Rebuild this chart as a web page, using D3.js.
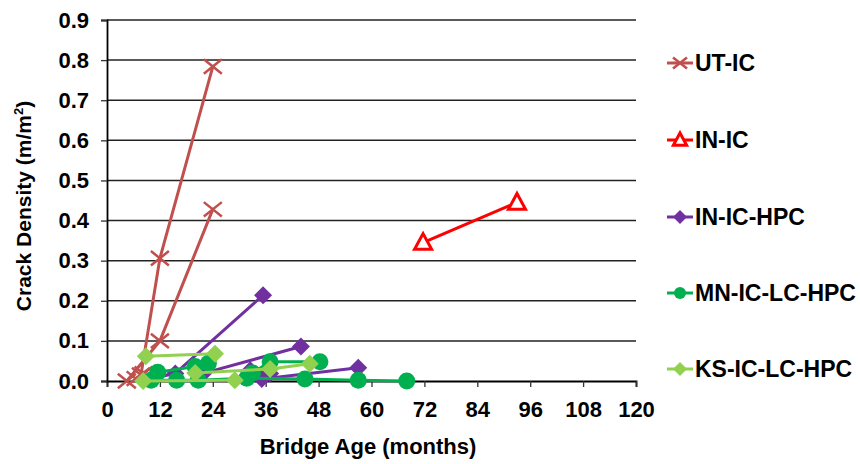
<!DOCTYPE html>
<html><head><meta charset="utf-8">
<script src="https://cdn.jsdelivr.net/npm/d3@7"></script>
<style>body{margin:0;background:#fff}svg{display:block}text{font-family:"Liberation Sans",Arial,sans-serif;font-weight:bold}</style>
</head><body><svg id="c" width="860" height="464"></svg>
<script>
// x tick labels (months) and y ticks
const xTicks = [0,12,24,36,48,60,72,84,96,108,120];
const yTicks = [0,0.1,0.2,0.3,0.4,0.5,0.6,0.7,0.8,0.9];
// each series: list of bridges, each bridge a list of [age, density]
const utIC = [
  [[4.5,0.0],[12,0.10],[24,0.428]],
  [[7.7,0.015],[12,0.306],[24,0.784]],
  [[6.5,0.006],[8.3,0.018]]
];
const inIC = [
  [[71.7,0.345],[93,0.445]]
];
const inICHPC = [
  [[10.5,0.007],[15.5,0.019],[35.4,0.214]],
  [[21.8,0.019],[44,0.086]],
  [[32.5,0.027],[37,0.019]],
  [[35.1,0.005],[57,0.033]]
];
const mnICLCHPC = [
  [[11.5,0.022],[20,0.036],[23,0.044]],
  [[10,0.002],[15.8,0.002],[20.7,0.002],[31.7,0.007],[44.9,0.005],[57,0.002],[68,0.0]],
  [[33,0.02],[37,0.048],[48.3,0.048]]
];
const ksICLCHPC = [
  [[8.8,0.062],[24.5,0.068]],
  [[8.2,0.0],[29,0.002]],
  [[20,0.02],[37,0.03],[46,0.043]]
];
const seriesNames = ["UT-IC","IN-IC","IN-IC-HPC","MN-IC-LC-HPC","KS-IC-LC-HPC"];
const seriesData = [utIC, inIC, inICHPC, mnICLCHPC, ksICLCHPC];
const seriesColors = ["#C0504D","#FF0000","#7030A0","#00B050","#92D050"];
const seriesMarkers = ["x","tri","diamond","circle","diamond"];

const svg = d3.select("#c");
const m = {l:107, t:20, r:636, b:381};
const x = d3.scaleLinear().domain([0,120]).range([m.l, m.r]);
const y = d3.scaleLinear().domain([0,0.9]).range([m.b, m.t]);

// gridlines
svg.append("g").selectAll("line").data(yTicks.filter(d=>d>0)).join("line")
  .attr("x1", m.l).attr("x2", m.r).attr("y1", d=>y(d)).attr("y2", d=>y(d))
  .attr("stroke","#222").attr("stroke-width",1.5);

// axes
const xa = svg.append("g").attr("transform",`translate(0,${m.b})`)
  .call(d3.axisBottom(x).tickValues(xTicks).tickSize(6).tickPadding(14).tickFormat(d3.format("d")));
const ya = svg.append("g").attr("transform",`translate(${m.l},0)`)
  .call(d3.axisLeft(y).tickValues(yTicks).tickSize(6).tickPadding(12).tickFormat(d3.format(".1f")));
[xa,ya].forEach(a=>{
  a.select(".domain").attr("stroke","#000").attr("stroke-width",1.8);
  a.selectAll(".tick line").attr("stroke","#333").attr("stroke-width",1.3);
  a.selectAll("text").attr("font-size",22).attr("fill","#000")
    .style("font-family","'Liberation Sans',Arial,sans-serif").style("font-weight","bold");
});
xa.selectAll(".tick text").attr("dy","0.71em");

svg.append("text").attr("x",368).attr("y",454).attr("text-anchor","middle")
  .attr("font-size",22).text("Bridge Age (months)");
const yl = svg.append("text").attr("transform",`translate(31,${206}) rotate(-90)`)
  .attr("text-anchor","middle").attr("font-size",21);
yl.append("tspan").text("Crack Density (m/m");
yl.append("tspan").attr("font-size",13).attr("dy",-8).text("2");
yl.append("tspan").attr("dy",8).text(")");

function drawMarker(g, type, color, cx, cy, s){
  if(type==="x"){
    const r = s;
    g.append("path").attr("d",`M${cx-r},${cy-r*0.8}L${cx+r},${cy+r*0.8}M${cx-r},${cy+r*0.8}L${cx+r},${cy-r*0.8}`)
      .attr("stroke",color).attr("stroke-width",2.5).attr("fill","none");
  } else if(type==="tri"){
    const r = s;
    g.append("path").attr("d",`M${cx},${cy-r}L${cx+r*0.95},${cy+r*0.75}L${cx-r*0.95},${cy+r*0.75}Z`)
      .attr("stroke",color).attr("stroke-width",3).attr("fill","#fff");
  } else if(type==="diamond"){
    const r = s;
    g.append("path").attr("d",`M${cx},${cy-r}L${cx+r},${cy}L${cx},${cy+r}L${cx-r},${cy}Z`).attr("fill",color);
  } else {
    g.append("circle").attr("cx",cx).attr("cy",cy).attr("r",s).attr("fill",color);
  }
}
const markerSize = {x:9, tri:9, diamond:9, circle:8.5};
const line = d3.line().x(d=>x(d[0])).y(d=>y(d[1]));
const plot = svg.append("g");
seriesData.forEach((bridges,i)=>{
  const g = plot.append("g");
  bridges.forEach(b=>{
    g.append("path").attr("d",line(b)).attr("fill","none").attr("stroke",seriesColors[i]).attr("stroke-width",3);
  });
  bridges.forEach(b=>b.forEach(p=>drawMarker(g, seriesMarkers[i], seriesColors[i], x(p[0]), y(p[1]), markerSize[seriesMarkers[i]])));
});

// legend
const legY = [63,140,217,293,369];
const lg = svg.append("g");
seriesNames.forEach((n,i)=>{
  lg.append("line").attr("x1",667).attr("x2",693).attr("y1",legY[i]).attr("y2",legY[i])
    .attr("stroke",seriesColors[i]).attr("stroke-width",3);
  drawMarker(lg, seriesMarkers[i], seriesColors[i], 680, legY[i], seriesMarkers[i]==="circle"?6:7);
  lg.append("text").attr("x",695).attr("y",legY[i]).attr("dy","0.36em").attr("font-size",23).text(n);
});
</script></body></html>
